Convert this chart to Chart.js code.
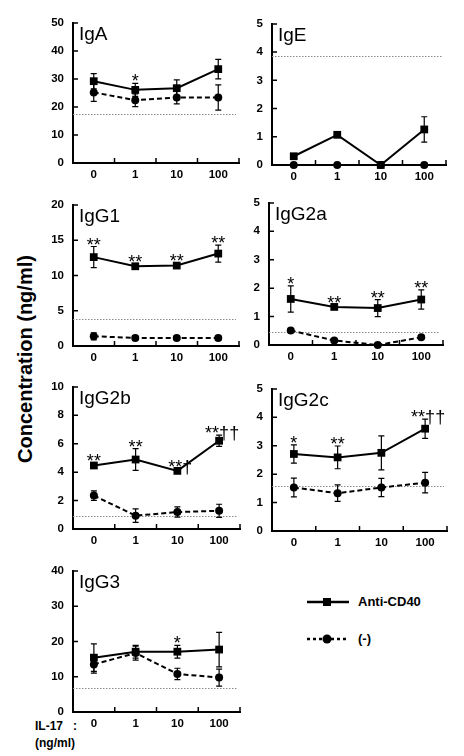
<!DOCTYPE html>
<html><head><meta charset="utf-8">
<script src="https://cdn.jsdelivr.net/npm/chart.js@4.4.0/dist/chart.umd.min.js"></script>
<style>
html,body{margin:0;padding:0;background:#fff;}
body{width:464px;height:756px;position:relative;overflow:hidden;font-family:"Liberation Sans",Arial,sans-serif;color:#000;}
canvas{position:absolute;}
.ytitle{position:absolute;left:25px;top:359px;transform:translate(-50%,-50%) rotate(-90deg);font-weight:bold;font-size:20px;white-space:nowrap;line-height:22px;}
.lbl{position:absolute;font-weight:bold;font-size:12px;line-height:14px;white-space:nowrap;}
.leg{position:absolute;font-weight:bold;font-size:13px;line-height:14px;white-space:nowrap;}
svg{position:absolute;}
</style>
</head><body>
<div class="ytitle">Concentration (ng/ml)</div>
<div class="lbl" style="left:35px;top:719px;">IL-17</div>
<div class="lbl" style="left:73px;top:719px;">:</div>
<div class="lbl" style="left:35px;top:736px;">(ng/ml)</div>

<svg style="left:305px;top:595px;" width="46" height="14"><line x1="2" y1="7" x2="44" y2="7" stroke="#000" stroke-width="2.5"/><rect x="18" y="3" width="8" height="8" fill="#000"/></svg>
<div class="leg" style="left:358px;top:595px;">Anti-CD40</div>
<svg style="left:305px;top:632px;" width="46" height="14"><line x1="2" y1="7" x2="44" y2="7" stroke="#000" stroke-width="2.5" stroke-dasharray="3,3"/><circle cx="22" cy="7" r="4.5" fill="#000"/></svg>
<div class="leg" style="left:358px;top:632px;">(-)</div>

<script>
// ---- data ----
const categories = ['0', '1', '10', '100'];
const seriesNames = ['Anti-CD40', '(-)'];

const igA_anti = [29.2, 26.1, 26.7, 33.5];
const igA_antiErr = [2.7, 2.3, 3.0, 3.5];
const igA_neg = [25.2, 22.4, 23.4, 23.4];
const igA_negErr = [3.2, 2.3, 2.3, 4.5];
const igA_ref = 17.4;
const igA_marks = ['', '*', '', ''];

const igE_anti = [0.31, 1.07, 0, 1.26];
const igE_antiErr = [0.05, 0.05, 0, 0.45];
const igE_neg = [0, 0, 0, 0];
const igE_negErr = [0, 0, 0, 0];
const igE_ref = 3.87;
const igE_marks = ['', '', '', ''];

const igG1_anti = [12.6, 11.3, 11.4, 13.1];
const igG1_antiErr = [1.5, 0.3, 0.35, 1.2];
const igG1_neg = [1.38, 1.15, 1.15, 1.15];
const igG1_negErr = [0.5, 0.3, 0.3, 0.3];
const igG1_ref = 3.82;
const igG1_marks = ['**', '**', '**', '**'];

const igG2a_anti = [1.62, 1.34, 1.30, 1.60];
const igG2a_antiErr = [0.46, 0.08, 0.3, 0.34];
const igG2a_neg = [0.51, 0.16, 0, 0.27];
const igG2a_negErr = [0.05, 0.05, 0.02, 0.05];
const igG2a_ref = 0.47;
const igG2a_marks = ['*', '**', '**', '**'];

const igG2b_anti = [4.47, 4.89, 4.09, 6.21];
const igG2b_antiErr = [0.15, 0.77, 0.1, 0.4];
const igG2b_neg = [2.35, 0.94, 1.19, 1.28];
const igG2b_negErr = [0.34, 0.48, 0.36, 0.46];
const igG2b_ref = 0.89;
const igG2b_marks = ['**', '**', '**\u2020', '**\u2020\u2020'];

const igG2c_anti = [2.71, 2.59, 2.75, 3.6];
const igG2c_antiErr = [0.32, 0.4, 0.6, 0.34];
const igG2c_neg = [1.53, 1.33, 1.53, 1.70];
const igG2c_negErr = [0.33, 0.29, 0.32, 0.36];
const igG2c_ref = 1.57;
const igG2c_marks = ['*', '**', '', '**\u2020\u2020'];

const igG3_anti = [15.4, 17.1, 17.1, 17.7];
const igG3_antiErr = [3.9, 1.8, 1.8, 4.9];
const igG3_neg = [13.5, 16.7, 10.8, 9.75];
const igG3_negErr = [2.5, 2.0, 1.6, 2.4];
const igG3_ref = 6.9;
const igG3_marks = ['', '', '*', ''];

const yMax = [50, 5, 20, 5, 10, 5, 40];
const yStep = [10, 1, 5, 1, 2, 1, 10];
const titles = ['IgA', 'IgE', 'IgG1', 'IgG2a', 'IgG2b', 'IgG2c', 'IgG3'];

// ---- layout (plot-area boxes: left, right, top, bottom) ----
const boxes = [
  [73, 239, 19, 163], [272, 446, 20, 165],
  [73, 239, 201, 346], [269, 443, 199, 345],
  [73, 240, 383, 529], [272, 447, 385, 531],
  [73, 240, 567, 712]
];

const panels = [
  [igA_anti, igA_antiErr, igA_neg, igA_negErr, igA_ref, igA_marks],
  [igE_anti, igE_antiErr, igE_neg, igE_negErr, igE_ref, igE_marks],
  [igG1_anti, igG1_antiErr, igG1_neg, igG1_negErr, igG1_ref, igG1_marks],
  [igG2a_anti, igG2a_antiErr, igG2a_neg, igG2a_negErr, igG2a_ref, igG2a_marks],
  [igG2b_anti, igG2b_antiErr, igG2b_neg, igG2b_negErr, igG2b_ref, igG2b_marks],
  [igG2c_anti, igG2c_antiErr, igG2c_neg, igG2c_negErr, igG2c_ref, igG2c_marks],
  [igG3_anti, igG3_antiErr, igG3_neg, igG3_negErr, igG3_ref, igG3_marks]
];

const FONT = '"Liberation Sans", Arial, sans-serif';
const PAD_L = 50, PAD_T = 12, PAD_R = 8, PAD_B = 28;

const panelPlugin = {
  id: 'panelDecor',
  beforeDatasetsDraw(chart, args, opts) {
    const ctx = chart.ctx, a = chart.chartArea, ys = chart.scales.y;
    const y = ys.getPixelForValue(opts.ref);
    ctx.save();
    ctx.strokeStyle = '#8a8a8a';
    ctx.lineWidth = 1;
    ctx.setLineDash([1.5, 1.5]);
    ctx.beginPath();
    ctx.moveTo(a.left, Math.round(y) + 0.5);
    ctx.lineTo(a.right - 3, Math.round(y) + 0.5);
    ctx.stroke();
    ctx.restore();
  },
  afterDatasetsDraw(chart, args, opts) {
    const ctx = chart.ctx, ys = chart.scales.y, a = chart.chartArea;
    ctx.save();
    ctx.strokeStyle = '#000';
    ctx.lineWidth = 1.2;
    chart.data.datasets.forEach((ds, di) => {
      const meta = chart.getDatasetMeta(di);
      meta.data.forEach((el, i) => {
        const e = ds.errors[i];
        if (!e) return;
        const v = ds.data[i];
        const yt = ys.getPixelForValue(v + e);
        const yb = ys.getPixelForValue(Math.max(v - e, 0));
        ctx.beginPath();
        ctx.moveTo(el.x, yt); ctx.lineTo(el.x, yb);
        ctx.moveTo(el.x - 3, yt); ctx.lineTo(el.x + 3, yt);
        ctx.moveTo(el.x - 3, yb); ctx.lineTo(el.x + 3, yb);
        ctx.stroke();
      });
    });
    // significance marks above the Anti-CD40 series
    const ds0 = chart.data.datasets[0];
    const meta0 = chart.getDatasetMeta(0);
    ctx.fillStyle = '#000';
    ctx.font = '18px ' + FONT;
    ctx.textAlign = 'center';
    ctx.textBaseline = 'alphabetic';
    opts.marks.forEach((m, i) => {
      if (!m) return;
      const top = ys.getPixelForValue(ds0.data[i] + (ds0.errors[i] || 0));
      ctx.fillText(m, meta0.data[i].x + (m.length > 2 ? 3 : 0), top + 4);
    });
    ctx.restore();
  },
  afterDraw(chart, args, opts) {
    const ctx = chart.ctx, a = chart.chartArea, ys = chart.scales.y, xs = chart.scales.x;
    ctx.save();
    ctx.strokeStyle = '#000';
    ctx.lineWidth = 1.5;
    ctx.beginPath();
    ys.ticks.forEach(t => {
      const y = ys.getPixelForValue(t.value);
      if (t.value === ys.min) return;
      ctx.moveTo(a.left, y); ctx.lineTo(a.left + 5, y);
    });
    for (let i = 0; i < xs.ticks.length; i++) {
      const x = xs.getPixelForValue(i + 0.5);
      ctx.moveTo(x, a.bottom); ctx.lineTo(x, a.bottom - 5);
    }
    ctx.stroke();
    ctx.fillStyle = '#000';
    ctx.font = '19px ' + FONT;
    ctx.textAlign = 'left';
    ctx.textBaseline = 'alphabetic';
    ctx.fillText(opts.title, a.left + 6, a.top + 17);
    ctx.restore();
  }
};

panels.forEach((p, k) => {
  const [L, R, T, B] = boxes[k];
  const cv = document.createElement('canvas');
  const w = R - L + PAD_L + PAD_R, h = B - T + PAD_T + PAD_B;
  cv.width = w; cv.height = h;
  cv.style.left = (L - PAD_L) + 'px';
  cv.style.top = (T - PAD_T) + 'px';
  cv.style.width = w + 'px'; cv.style.height = h + 'px';
  document.body.appendChild(cv);
  new Chart(cv, {
    type: 'line',
    data: {
      labels: categories,
      datasets: [
        { label: seriesNames[0], data: p[0], errors: p[1], borderColor: '#000', backgroundColor: '#000',
          borderWidth: 2, pointStyle: 'rect', pointRadius: 5.5, pointBorderWidth: 0, tension: 0, clip: false },
        { label: seriesNames[1], data: p[2], errors: p[3], borderColor: '#000', backgroundColor: '#000',
          borderWidth: 2, borderDash: [5, 3], pointStyle: 'circle', pointRadius: 4, pointBorderWidth: 0, tension: 0, clip: false }
      ]
    },
    options: {
      responsive: false,
      animation: false,
      devicePixelRatio: 1,
      layout: { padding: { left: 0, top: PAD_T, right: PAD_R, bottom: 0 } },
      plugins: {
        legend: { display: false },
        tooltip: { enabled: false },
        panelDecor: { ref: p[4], marks: p[5], title: titles[k] }
      },
      scales: {
        x: {
          type: 'category', offset: true,
          grid: { display: false, drawTicks: false },
          border: { display: true, color: '#000', width: 2 },
          ticks: { color: '#000', font: { family: FONT, size: 11.5, weight: 'bold' }, padding: 5, maxRotation: 0 },
          afterFit(s) { s.height = PAD_B; }
        },
        y: {
          min: 0, max: yMax[k],
          grid: { display: false, drawTicks: false },
          border: { display: true, color: '#000', width: 2 },
          ticks: { stepSize: yStep[k], color: '#000', font: { family: FONT, size: 11.5, weight: 'bold' }, padding: 9 },
          afterFit(s) { s.width = PAD_L; }
        }
      }
    },
    plugins: [panelPlugin]
  });
});
</script>
</body></html>
